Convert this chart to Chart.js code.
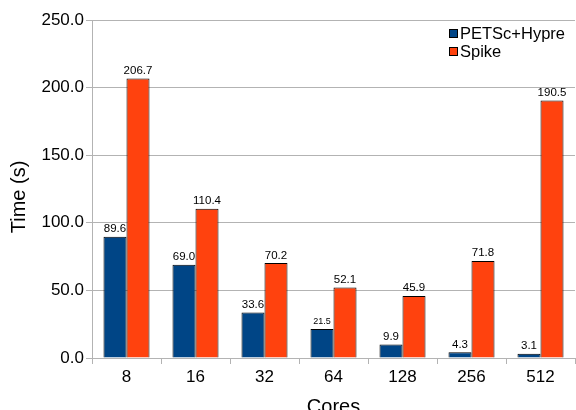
<!DOCTYPE html>
<html>
<head>
<meta charset="utf-8">
<script src="https://cdn.jsdelivr.net/npm/chart.js@4/dist/chart.umd.min.js"></script>
<style>
  html, body { margin: 0; padding: 0; background: #ffffff; }
  #wrap { width: 576px; height: 410px; position: relative; }
</style>
</head>
<body>
<div id="wrap"><canvas id="chart" width="576" height="410"></canvas></div>
<script>
// Run times per core count
const cores = ['8', '16', '32', '64', '128', '256', '512'];
const petscHypre = [89.6, 69.0, 33.6, 21.5, 9.9, 4.3, 3.1];
const spike = [206.7, 110.4, 70.2, 52.1, 45.9, 71.8, 190.5];
const seriesNames = ['PETSc+Hypre', 'Spike'];
const yTicks = [0, 50, 100, 150, 200, 250];
const yTitle = 'Time (s)';
const xTitle = 'Cores';

const FONT = '"Liberation Sans", Arial, sans-serif';
const GRID = '#b3b3b3';
const COLORS = ['#004586', '#ff420e'];

// Value labels above each bar
const valueLabels = {
  id: 'valueLabels',
  afterDatasetsDraw(chart) {
    const ctx = chart.ctx;
    ctx.save();
    ctx.fillStyle = '#000000';
    ctx.textAlign = 'center';
    ctx.textBaseline = 'alphabetic';
    chart.data.datasets.forEach((ds, di) => {
      chart.getDatasetMeta(di).data.forEach((bar, i) => {
        const v = ds.data[i];
        const small = di === 0 && i === 3;
        ctx.font = (small ? '9px ' : '11.5px ') + FONT;
        ctx.fillText(v.toFixed(1), bar.x, bar.y - 4.5);
      });
    });
    ctx.restore();
  }
};

// Legend in the top-right corner of the plot, plus the vertical axis title
const cornerLegend = {
  id: 'cornerLegend',
  afterDraw(chart) {
    const ctx = chart.ctx;
    ctx.save();
    ctx.font = '16.5px ' + FONT;
    ctx.textBaseline = 'middle';
    ctx.textAlign = 'left';
    chart.data.datasets.forEach((ds, di) => {
      const cy = 34 + di * 18;
      ctx.fillStyle = ds.backgroundColor;
      ctx.fillRect(449.5, cy - 4.5, 8, 8);
      ctx.strokeStyle = '#000000';
      ctx.lineWidth = 1;
      ctx.strokeRect(449.5, cy - 4.5, 8, 8);
      ctx.fillStyle = '#000000';
      ctx.fillText(ds.label, 460, cy);
    });

    // y axis title, centred on the full axis band
    ctx.translate(19, 197);
    ctx.rotate(-Math.PI / 2);
    ctx.font = '20px ' + FONT;
    ctx.textAlign = 'center';
    ctx.textBaseline = 'middle';
    ctx.fillText(yTitle, 0, 0);
    ctx.restore();
  }
};

new Chart(document.getElementById('chart'), {
  type: 'bar',
  data: {
    labels: cores,
    datasets: [
      { label: seriesNames[0], data: petscHypre, backgroundColor: COLORS[0], borderColor: '#000000', borderWidth: 1, borderSkipped: 'bottom' },
      { label: seriesNames[1], data: spike, backgroundColor: COLORS[1], borderColor: '#000000', borderWidth: 1, borderSkipped: 'bottom' }
    ]
  },
  options: {
    responsive: false,
    animation: false,
    layout: { padding: { top: 20, right: 1, left: 0, bottom: 0 } },
    datasets: { bar: { categoryPercentage: 0.667, barPercentage: 1.0 } },
    plugins: {
      legend: { display: false },
      tooltip: { enabled: false }
    },
    scales: {
      x: {
        offset: true,
        grid: { offset: true, drawOnChartArea: false, color: GRID, tickLength: 6, tickColor: GRID },
        border: { color: GRID },
        ticks: { color: '#000000', font: { family: FONT, size: 17 }, padding: 3 },
        title: { display: true, text: xTitle, color: '#000000', font: { family: FONT, size: 20, lineHeight: 1 }, padding: { top: 0, bottom: -7 } },
        afterFit(scale) { scale.height = 52; }
      },
      y: {
        min: 0,
        max: 250,
        afterBuildTicks(scale) { scale.ticks = yTicks.map(v => ({ value: v })); },
        grid: { color: GRID, tickLength: 6, tickColor: GRID },
        border: { color: GRID },
        ticks: { color: '#000000', font: { family: FONT, size: 17 }, padding: 2, callback: v => v.toFixed(1) },
        afterFit(scale) { scale.width = 92; }
      }
    }
  },
  plugins: [valueLabels, cornerLegend]
});
</script>
</body>
</html>
